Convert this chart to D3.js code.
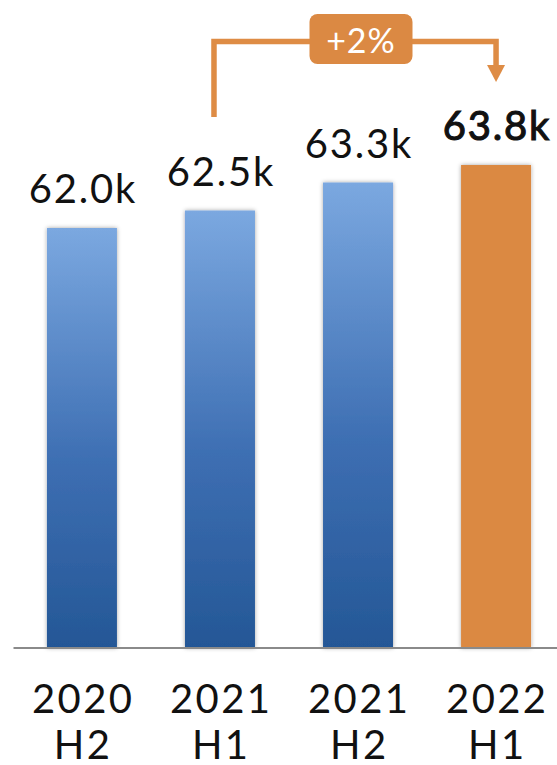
<!DOCTYPE html>
<html><head><meta charset="utf-8">
<script src="https://cdn.jsdelivr.net/npm/d3@7"></script>
<style>html,body{margin:0;padding:0;background:#fff;}svg{display:block;}</style>
</head><body>
<script>
const categories = ["2020 H2", "2021 H1", "2021 H2", "2022 H1"];
const values = [62.0, 62.5, 63.3, 63.8];
const valueLabels = ["62.0k", "62.5k", "63.3k", "63.8k"];
const highlight = [false, false, false, true];
const changeLabel = "+2%";

const W = 557, H = 765;
const FONT = "Lato, 'Open Sans', sans-serif";
const svg = d3.select("body").append("svg").attr("width", W).attr("height", H);
const defs = svg.append("defs");
const grad = defs.append("linearGradient").attr("id", "blueGrad").attr("x1", 0).attr("y1", 0).attr("x2", 0).attr("y2", 1);
grad.append("stop").attr("offset", "0%").attr("stop-color", "#7BA8E0");
grad.append("stop").attr("offset", "55%").attr("stop-color", "#3E6FB3");
grad.append("stop").attr("offset", "100%").attr("stop-color", "#245796");
const f = defs.append("filter").attr("id", "shadow").attr("x", "-20%").attr("y", "-5%").attr("width", "140%").attr("height", "110%");
f.append("feDropShadow").attr("dx", 0).attr("dy", 0).attr("stdDeviation", 2.2).attr("flood-color", "#000").attr("flood-opacity", 0.35);

const x = d3.scaleBand().domain(categories).range([13, 565]).paddingInner(0.493).paddingOuter(0.246);
const y = d3.scaleLinear().domain([50, 65]).range([648, 123]);
const bw = x.bandwidth();
const ORANGE = "#DB8943";

// bars
svg.append("g").selectAll("rect").data(categories).join("rect")
  .attr("x", d => x(d)).attr("width", bw)
  .attr("y", (d, i) => y(values[i])).attr("height", (d, i) => y(50) - y(values[i]))
  .attr("fill", (d, i) => highlight[i] ? ORANGE : "url(#blueGrad)")
  .attr("filter", "url(#shadow)");

// axis baseline
const axis = d3.axisBottom(x).tickSize(0).tickFormat("");
const ag = svg.append("g").attr("transform", `translate(0,${y(50)})`).call(axis);
ag.select(".domain").attr("stroke", "#8a8a8a").attr("stroke-width", 2.2).attr("d", `M13.5,0H${W}`);

// x labels
const xl = svg.append("g").attr("font-family", FONT).attr("font-size", 40).attr("fill", "#111").attr("text-anchor", "middle");
categories.forEach((c, i) => {
  const parts = c.split(" ");
  const cx = x(c) + bw / 2 + 1.2;
  xl.append("text").attr("x", cx).attr("y", 713).attr("letter-spacing", 2.4).text(parts[0]);
  xl.append("text").attr("x", cx).attr("y", 759).attr("letter-spacing", 2.4).text(parts[1]);
});

// value labels
svg.append("g").selectAll("text").data(categories).join("text")
  .attr("x", d => x(d) + bw / 2 + 1)
  .attr("y", (d, i) => y(values[i]) - 25)
  .attr("text-anchor", "middle")
  .attr("font-family", FONT).attr("font-size", 40)
  .attr("letter-spacing", 1.8)
  .attr("fill", "#111")
  .attr("stroke", (d, i) => highlight[i] ? "#111" : "none")
  .attr("stroke-width", (d, i) => highlight[i] ? 1.1 : 0)
  .text((d, i) => valueLabels[i]);

// change bracket
const x1 = x(categories[1]) + bw / 2 - 6;
const x2 = x(categories[3]) + bw / 2;
const yTop = 41.5;
const yStart = 117;
const BR = "#DE8C45";
svg.append("path")
  .attr("d", `M${x1},${yStart}V${yTop}H${x2}V66`)
  .attr("fill", "none").attr("stroke", BR).attr("stroke-width", 5.5);
svg.append("path")
  .attr("d", `M${x2 - 9},65L${x2 + 9},65L${x2},82Z`)
  .attr("fill", BR);
const bx = 309.5, bwid = 103, by = 14, bh = 50;
svg.append("rect").attr("x", bx).attr("y", by).attr("width", bwid).attr("height", bh)
  .attr("rx", 8).attr("fill", ORANGE);
svg.append("text").attr("x", bx + bwid / 2).attr("y", 53)
  .attr("text-anchor", "middle").attr("font-family", FONT).attr("font-size", 34)
  .attr("letter-spacing", 1)
  .attr("fill", "#fff").text(changeLabel);
</script>
</body></html>
